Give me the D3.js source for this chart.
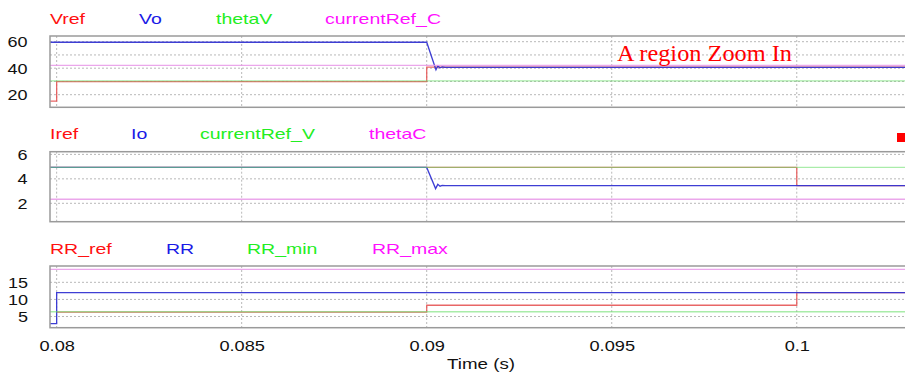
<!DOCTYPE html>
<html><head><meta charset="utf-8">
<script src="https://cdn.jsdelivr.net/npm/d3@7"></script>
<style>
html,body{margin:0;padding:0;background:#fff;}
svg{display:block;}
text{font-family:"Liberation Sans",Arial,sans-serif;}
</style></head>
<body>
<svg id="chart" width="905" height="373"></svg>
<script>
// ---------- data ----------
const tStart = 0.07982, tEnd = 0.10306;
const xTicks = [0.08, 0.085, 0.09, 0.095, 0.1];
const xTickLabels = ["0.08", "0.085", "0.09", "0.095", "0.1"];

// Panel 1
const p1Names = ["Vref", "Vo", "thetaV", "currentRef_C"];
const p1Ticks = [20, 40, 60];
const p1Grid = [20, 30, 40, 50, 60];
const Vref = [[tStart,15.2],[0.08,15.2],[0.08,29.8],[0.09,29.8],[0.09,40.8],[tEnd,40.8]];
const Vo = [[tStart,59.6],[0.09,59.6],[0.09025,38.8],[0.0903,41.6],[0.09036,40.3],[0.09042,40.9],[0.0905,40.6],[tEnd,40.6]];
const thetaV = [[tStart,30.4],[tEnd,30.4]];
const currentRef_C = [[tStart,42.1],[tEnd,42.1]];

// Panel 2
const p2Names = ["Iref", "Io", "currentRef_V", "thetaC"];
const p2Ticks = [2, 4, 6];
const Iref = [[tStart,4.93],[0.1,4.93],[0.1,3.45],[tEnd,3.45]];
const Io = [[tStart,4.93],[0.09,4.93],[0.09024,3.2],[0.0903,3.55],[0.09036,3.4],[0.09042,3.47],[0.0905,3.45],[tEnd,3.45]];
const currentRef_V = [[tStart,4.93],[tEnd,4.93]];
const thetaC = [[tStart,2.33],[tEnd,2.33]];

// Panel 3
const p3Names = ["RR_ref", "RR", "RR_min", "RR_max"];
const p3Ticks = [5, 10, 15];
const RR_ref = [[0.08,6.3],[0.09,6.3],[0.09,8.3],[0.1,8.3],[0.1,12],[tEnd,12]];
const RR = [[tStart,2.9],[0.08,2.9],[0.08,12],[tEnd,12]];
const RR_min = [[tStart,6.4],[tEnd,6.4]];
const RR_max = [[tStart,18.8],[tEnd,18.8]];

const annotation = "A region Zoom In";
const xTitle = "Time (s)";

// ---------- drawing ----------
const lineColors = ["#e65555", "#3434d2", "#70e070", "#e898e8"];
const lineOpacity = [0.9, 0.95, 0.6, 0.85];
const labelColors = ["#ff1010", "#1a1ae6", "#22ee22", "#ff10ff"];
const svg = d3.select("#chart");
const plotLeft = 50, plotRight = 910;
const x = d3.scaleLinear().domain([tStart, tEnd]).range([plotLeft, plotRight]);

function stretch(sel, f) {
  sel.each(function(){ const w = this.getComputedTextLength(); d3.select(this).attr("textLength", w*f).attr("lengthAdjust","spacingAndGlyphs"); });
}

const panels = [
  {names:p1Names, series:[Vref,Vo,thetaV,currentRef_C], ticks:p1Ticks, grid:p1Grid, domain:[10.49,64.3], top:36, bottom:107.3, legendY:24, legendX:[50,139,216,325], labelX:27.5},
  {names:p2Names, series:[Iref,Io,currentRef_V,thetaC], ticks:p2Ticks, grid:p2Ticks, domain:[0.495,6.22], top:151.7, bottom:221.7, legendY:139, legendX:[50,131,200,369], labelX:27.5},
  {names:p3Names, series:[RR_ref,RR,RR_min,RR_max], ticks:p3Ticks, grid:p3Ticks, domain:[1.73,19.77], top:266, bottom:327.7, legendY:254, legendX:[50,166,247,372], labelX:28}
];

panels.forEach((p, pi) => {
  const y = d3.scaleLinear().domain(p.domain).range([p.bottom, p.top]);
  const g = svg.append("g");
  const clipId = "clip"+pi;
  g.append("clipPath").attr("id", clipId).append("rect")
    .attr("x", plotLeft).attr("y", p.top).attr("width", plotRight-plotLeft).attr("height", p.bottom-p.top);
  // grid
  g.selectAll(".hg").data(p.grid).join("line")
    .attr("x1", plotLeft).attr("x2", plotRight).attr("y1", d=>y(d)).attr("y2", d=>y(d))
    .attr("stroke", "#b8b8b8").attr("stroke-width", 1).attr("stroke-dasharray", "2,2");
  g.selectAll(".vg").data(xTicks).join("line")
    .attr("x1", d=>x(d)).attr("x2", d=>x(d)).attr("y1", p.top).attr("y2", p.bottom)
    .attr("stroke", "#b8b8b8").attr("stroke-width", 1).attr("stroke-dasharray", "2,2");
  // y axis labels via d3 axis
  const ax = g.append("g").attr("transform", `translate(${p.labelX},0)`)
    .call(d3.axisLeft(y).tickValues(p.ticks).tickSize(0).tickPadding(0).tickFormat(d3.format("d")));
  ax.select(".domain").remove();
  ax.selectAll("text").attr("font-size", 15).attr("fill", "#111").style("font-family", "'Liberation Sans', Arial, sans-serif").call(stretch, 1.2);
  // series
  const line = d3.line().x(d=>x(d[0])).y(d=>y(d[1]));
  const lg = g.append("g").attr("clip-path", `url(#${clipId})`);
  p.series.forEach((s, si) => {
    lg.append("path").attr("d", line(s)).attr("fill", "none")
      .attr("stroke", lineColors[si]).attr("stroke-width", 1.3).attr("stroke-opacity", lineOpacity[si]);
  });
  // frame
  g.append("rect").attr("x", plotLeft).attr("y", p.top).attr("width", plotRight-plotLeft).attr("height", p.bottom-p.top)
    .attr("fill", "none").attr("stroke", "#9a9a9a").attr("stroke-width", 1.5);
  // legend
  p.names.forEach((n, ni) => {
    g.append("text").attr("x", p.legendX[ni]).attr("y", p.legendY).attr("font-size", 15)
      .attr("fill", labelColors[ni]).text(n).call(stretch, 1.3);
  });
});

// x axis labels (bottom panel)
const xa = svg.append("g").attr("transform", "translate(0,339)")
  .call(d3.axisBottom(x).tickValues(xTicks).tickSize(0).tickPadding(0).tickFormat((d,i)=>xTickLabels[i]));
xa.select(".domain").remove();
xa.selectAll("text").attr("font-size", 14).attr("fill", "#111").attr("dy", "0.71em").attr("y", 2)
  .style("font-family", "'Liberation Sans', Arial, sans-serif").call(stretch, 1.3);

svg.append("text").attr("x", 447).attr("y", 369).attr("font-size", 15).attr("fill", "#111")
  .text(xTitle).attr("textLength", 68).attr("lengthAdjust", "spacingAndGlyphs");

// annotation
svg.append("text").attr("x", 617).attr("y", 61).attr("font-size", 24)
  .style("font-family", "'Liberation Serif', 'Times New Roman', serif").attr("fill", "#ff0000")
  .attr("textLength", 175).attr("lengthAdjust", "spacingAndGlyphs").text(annotation);

// red marker in panel 2 corner
svg.append("rect").attr("x", 897).attr("y", 133).attr("width", 9).attr("height", 9).attr("fill", "#ff0000");
</script>
</body></html>
